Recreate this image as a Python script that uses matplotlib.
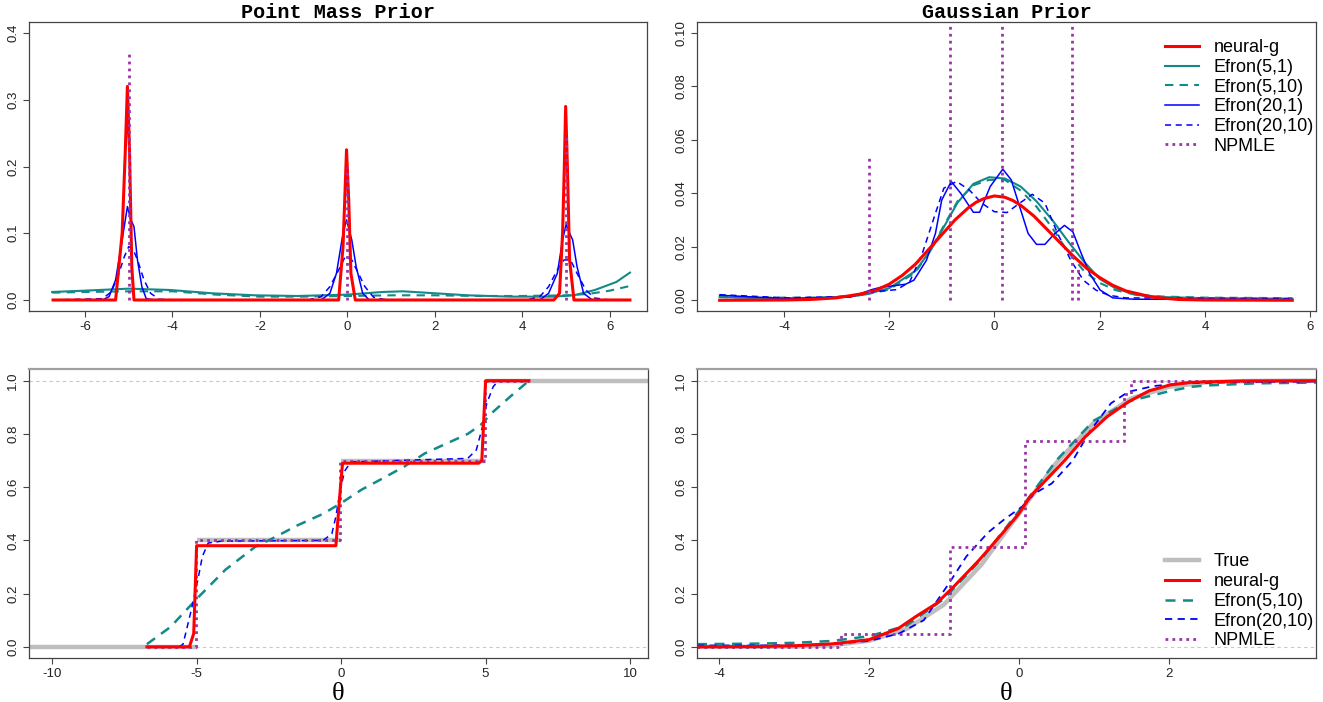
import matplotlib
matplotlib.use("Agg")
import matplotlib.pyplot as plt

plt.rcParams['font.family'] = ['Liberation Sans', 'DejaVu Sans']
plt.rcParams['axes.unicode_minus'] = False

RED = '#ff0000'
TEAL = '#138a8a'
BLUE = '#0000ff'
PURPLE = '#9a35a6'
GRAY = '#bebebe'

# ---- Point mass prior: densities ----
pm_neural_x = [-6.73, -5.3, -5.15, -5.08, -5.03, -4.98, -4.93, -4.88, -0.2, -0.1, -0.05, -0.02,
               0.03, 0.08, 0.18, 4.72, 4.85, 4.92, 4.96, 4.99, 5.03, 5.08, 5.18, 6.46]
pm_neural_y = [0, 0, 0.1, 0.22, 0.32, 0.22, 0.05, 0, 0, 0.08, 0.17, 0.225,
               0.15, 0.04, 0, 0, 0.01, 0.1, 0.2, 0.29, 0.2, 0.06, 0, 0]
pm_e51_x = [-6.75, -6.0, -5.0, -4.06, -3.08, -2.11, -1.14, 0.0, 0.8, 1.27, 1.77, 2.75,
            3.72, 4.69, 5.18, 5.66, 6.15, 6.46]
pm_e51_y = [0.012, 0.014, 0.017, 0.015, 0.010, 0.007, 0.006, 0.008, 0.012, 0.013, 0.011, 0.007,
            0.005, 0.005, 0.007, 0.015, 0.027, 0.041]
pm_e510_x = [-6.75, -6.0, -5.0, -4.0, -3.0, -2.0, -1.0, 0.0, 1.0, 2.0, 3.0, 4.0, 5.0, 5.5, 6.0, 6.46]
pm_e510_y = [0.011, 0.012, 0.013, 0.013, 0.008, 0.005, 0.005, 0.006, 0.007, 0.007, 0.006, 0.006,
             0.007, 0.009, 0.014, 0.021]
pm_e201_x = [-6.73, -5.6, -5.45, -5.3, -5.15, -5.03, -4.95, -4.88, -4.8, -4.7, -4.6, -4.4,
             -0.6, -0.4, -0.25, -0.1, -0.02, 0.1, 0.2, 0.35, 0.5,
             4.4, 4.6, 4.8, 4.92, 5.0, 5.08, 5.15, 5.25, 5.4, 5.6, 6.46]
pm_e201_y = [0, 0, 0.005, 0.03, 0.09, 0.14, 0.12, 0.11, 0.06, 0.02, 0.002, 0,
             0, 0.01, 0.04, 0.1, 0.12, 0.09, 0.05, 0.01, 0,
             0, 0.01, 0.04, 0.09, 0.113, 0.1, 0.09, 0.05, 0.01, 0, 0]
pm_e2010_x = [-6.73, -5.6, -5.4, -5.25, -5.1, -5.0, -4.9, -4.8, -4.65, -4.5, -4.3, -3.8,
              -0.9, -0.6, -0.4, -0.2, -0.05, 0.1, 0.25, 0.4, 0.6, 0.9,
              4.1, 4.4, 4.6, 4.8, 4.95, 5.1, 5.25, 5.45, 5.65, 6.0, 6.46]
pm_e2010_y = [0, 0.002, 0.012, 0.035, 0.065, 0.08, 0.076, 0.06, 0.03, 0.01, 0.001, 0,
              0, 0.005, 0.02, 0.045, 0.065, 0.06, 0.04, 0.02, 0.004, 0,
              0, 0.005, 0.02, 0.045, 0.06, 0.06, 0.04, 0.015, 0.003, 0, 0]
pm_npmle_x = [-5.0, 0.0, 5.0]
pm_npmle_h = [0.375, 0.2, 0.25]

# ---- Gaussian prior: densities ----
gp_neural_x = [-5.22, -4.0, -3.5, -3.0, -2.5, -2.25, -2.0, -1.75, -1.5, -1.25, -1.0, -0.75,
               -0.5, -0.35, -0.2, 0.0, 0.2, 0.35, 0.5, 0.75, 1.0, 1.25, 1.5, 1.75, 2.0, 2.25,
               2.5, 3.0, 3.5, 4.0, 5.66]
gp_neural_y = [0, 0.0001, 0.0003, 0.0009, 0.0025, 0.0038, 0.006, 0.0093, 0.0135, 0.019,
               0.0245, 0.030, 0.0345, 0.0366, 0.038, 0.039, 0.0385, 0.0373, 0.0355, 0.0315,
               0.0265, 0.0215, 0.0165, 0.012, 0.0085, 0.0056, 0.0035, 0.0012, 0.0003, 0.0001, 0.0]
gp_e5_x = [-5.22, -4.5, -3.5, -3.0, -2.5, -2.0, -1.5, -1.2, -1.0, -0.7, -0.4, -0.1, 0.2, 0.5,
           0.8, 1.1, 1.4, 1.7, 2.0, 2.3, 2.7, 3.2, 4.0, 5.66]
gp_e51_y = [0.0012, 0.0008, 0.0008, 0.0012, 0.002, 0.0045, 0.011, 0.019, 0.026, 0.0365, 0.0435,
            0.046, 0.0455, 0.0425, 0.037, 0.030, 0.022, 0.0145, 0.008, 0.0045, 0.002, 0.0012,
            0.0008, 0.0006]
gp_e510_y = [0.0012, 0.001, 0.001, 0.0012, 0.002, 0.004, 0.0105, 0.019, 0.0265, 0.037, 0.043,
             0.045, 0.045, 0.041, 0.035, 0.027, 0.018, 0.011, 0.0065, 0.0038, 0.002, 0.0014,
             0.001, 0.0008]
gp_e201_x = [-5.22, -3.94, -2.73, -2.33, -2.17, -1.69, -1.53, -1.29, -1.12, -1.0, -0.82, -0.64,
             -0.4, -0.28, -0.08, 0.16, 0.32, 0.48, 0.64, 0.8, 0.96, 1.12, 1.33, 1.49, 1.65,
             1.81, 2.01, 2.25, 2.65, 5.66]
gp_e201_y = [0.0019, 0.0006, 0.0012, 0.004, 0.0048, 0.006, 0.0075, 0.015, 0.025, 0.0375, 0.0444,
             0.040, 0.0329, 0.0329, 0.0425, 0.049, 0.045, 0.035, 0.025, 0.0209, 0.0209, 0.0244,
             0.028, 0.0256, 0.0175, 0.010, 0.0038, 0.0009, 0.0004, 0.0003]
gp_e2010_x = [-5.22, -3.94, -2.73, -2.33, -1.85, -1.61, -1.37, -1.12, -0.96, -0.72, -0.48, -0.24,
              0.0, 0.24, 0.48, 0.72, 0.96, 1.2, 1.45, 1.69, 1.93, 2.17, 2.49, 5.66]
gp_e2010_y = [0.0021, 0.0009, 0.0015, 0.0031, 0.004, 0.0069, 0.0175, 0.0325, 0.0419, 0.0444,
              0.0413, 0.0363, 0.0331, 0.0328, 0.0363, 0.0396, 0.0363, 0.025, 0.015, 0.0075,
              0.0038, 0.0019, 0.0009, 0.0006]
gp_npmle_x = [-2.38, -0.84, 0.14, 1.47, 1.58]
gp_npmle_h = [0.054, 0.325, 0.40, 0.175, 0.012]

# ---- Point mass prior: CDFs ----
pmc_true_lo = [-11, -5, 0, 5]
pmc_true_hi = [-5, 0, 5, 11]
pmc_true_y = [0.0, 0.4, 0.7, 1.0]
pmc_neural_x = [-6.72, -5.25, -5.1, -5.0, -4.97, -0.18, -0.03, 0.05, 4.76, 4.87, 5.0, 6.5]
pmc_neural_y = [0, 0, 0.05, 0.38, 0.38, 0.38, 0.59, 0.69, 0.69, 0.70, 1.0, 1.0]
pmc_e510_x = [-6.72, -5.9, -5.0, -4.0, -2.97, -2.38, -1.5, -0.62, 0.0, 0.7, 1.44, 2.18, 2.9,
              3.65, 4.38, 4.82, 5.26, 5.85, 6.5]
pmc_e510_y = [0.01, 0.075, 0.18, 0.29, 0.376, 0.407, 0.457, 0.50, 0.54, 0.59, 0.633, 0.677,
              0.727, 0.764, 0.80, 0.833, 0.883, 0.94, 1.0]
pmc_e2010_x = [-6.72, -5.6, -5.47, -5.18, -4.96, -4.8, -4.6, -4.15, -0.62, -0.32, -0.18, -0.03,
               0.12, 0.34, 4.38, 4.68, 4.9, 5.04, 5.26, 5.44, 6.5]
pmc_e2010_y = [0, 0, 0.01, 0.14, 0.25, 0.34, 0.39, 0.397, 0.40, 0.425, 0.49, 0.59, 0.66, 0.695,
               0.708, 0.74, 0.83, 0.915, 0.977, 1.0, 1.0]
pmc_npmle_x = [-6.72, -5.02, -0.05, 4.98, 6.5]
pmc_npmle_y = [0.0, 0.4, 0.7, 1.0, 1.0]

# ---- Gaussian prior: CDFs ----
gpc_true_x = [-4.3, -4.0, -3.5, -3.0, -2.5, -2.0, -1.5, -1.0, -0.5, 0.0, 0.5, 1.0, 1.5, 2.0,
              2.5, 3.0, 3.5, 3.97]
gpc_true_y = [0.0, 0.0, 0.0002, 0.0013, 0.006, 0.023, 0.067, 0.159, 0.309, 0.5, 0.691, 0.841,
              0.933, 0.977, 0.994, 0.9987, 0.9998, 1.0]
gpc_neural_x = [-4.3, -3.5, -3.0, -2.5, -2.0, -1.61, -1.38, -1.10, -0.87, -0.53, -0.24, 0.0,
                0.15, 0.32, 0.61, 0.89, 1.18, 1.46, 1.74, 2.02, 2.3, 3.0, 3.97]
gpc_neural_y = [0.0, 0.001, 0.004, 0.011, 0.027, 0.069, 0.113, 0.163, 0.226, 0.326, 0.42, 0.5,
                0.564, 0.614, 0.70, 0.79, 0.865, 0.92, 0.962, 0.984, 0.994, 0.999, 1.0]
gpc_e510_x = [-4.3, -3.5, -3.0, -2.5, -2.0, -1.5, -1.0, -0.5, 0.0, 0.5, 1.0, 1.5, 2.0, 2.3,
              2.5, 3.16, 3.97]
gpc_e510_y = [0.01, 0.012, 0.015, 0.022, 0.04, 0.08, 0.18, 0.33, 0.51, 0.70, 0.85, 0.925, 0.96,
              0.977, 0.982, 0.99, 0.993]
gpc_e2010_x = [-4.3, -3.5, -3.0, -2.5, -2.0, -1.6, -1.27, -0.93, -0.70, -0.41, -0.19, 0.04,
               0.21, 0.44, 0.72, 0.95, 1.23, 1.46, 1.8, 2.2, 3.0, 3.97]
gpc_e2010_y = [0.005, 0.005, 0.006, 0.01, 0.022, 0.05, 0.10, 0.24, 0.34, 0.43, 0.48, 0.526,
               0.576, 0.614, 0.70, 0.81, 0.915, 0.958, 0.98, 0.99, 0.995, 0.997]
gpc_npmle_x = [-4.3, -2.37, -0.92, 0.08, 1.40, 1.50, 3.97]
gpc_npmle_y = [0.0, 0.05, 0.375, 0.775, 0.95, 1.0, 1.0]


def style(ax, xlim, ylim, xticks, yticks, yfmt, bottom_row=False):
    ax.set_xlim(*xlim)
    ax.set_ylim(*ylim)
    ax.set_xticks(xticks)
    ax.set_xticklabels([str(t) for t in xticks])
    ax.set_yticks(yticks)
    ax.set_yticklabels([yfmt.format(t) for t in yticks], rotation=90, va='center')
    ax.tick_params(direction='out', length=4, width=0.8, color='#444444',
                   labelsize=9.5, labelcolor='#222222', pad=3)
    for side in ax.spines:
        ax.spines[side].set_color('#444444')
        ax.spines[side].set_linewidth(0.9)
    if bottom_row:
        ax.spines['top'].set_color('#a0a0a0')
        ax.spines['top'].set_linewidth(1.6)
        ax.axhline(0, color='#c8c8c8', lw=0.8, ls=(0, (3, 3)), zorder=0)
        ax.axhline(1, color='#c8c8c8', lw=0.8, ls=(0, (3, 3)), zorder=0)
        ax.set_xlabel('θ', family='Liberation Serif', fontsize=19, labelpad=2)


def add_legend(ax, order, loc, anchor):
    h, l = ax.get_legend_handles_labels()
    ax.legend([h[i] for i in order], [l[i] for i in order], loc=loc,
              bbox_to_anchor=anchor, frameon=False, fontsize=13,
              handlelength=1.85, handletextpad=0.83, labelspacing=0.15)


fig = plt.figure(figsize=(13.23, 7.02), dpi=100)
W, H = 1323.0, 702.0
ax1 = fig.add_axes([29 / W, 1 - 311 / H, 618 / W, 289 / H])
ax2 = fig.add_axes([697 / W, 1 - 311 / H, 619 / W, 289 / H])
ax3 = fig.add_axes([29 / W, 1 - 658 / H, 619 / W, 289 / H])
ax4 = fig.add_axes([697 / W, 1 - 658 / H, 619 / W, 289 / H])

title_font = dict(family='Liberation Mono', weight='bold', fontsize=14.5)

# top left
ax1.plot(pm_e51_x, pm_e51_y, color=TEAL, lw=1.5)
ax1.plot(pm_e510_x, pm_e510_y, color=TEAL, lw=1.5, ls=(0, (4, 3)))
ax1.plot(pm_e201_x, pm_e201_y, color=BLUE, lw=1.1)
ax1.plot(pm_e2010_x, pm_e2010_y, color=BLUE, lw=1.1, ls=(0, (4, 3)))
ax1.plot(pm_neural_x, pm_neural_y, color=RED, lw=2.2)
ax1.vlines(pm_npmle_x, 0, pm_npmle_h, color=PURPLE, lw=2, linestyles=(0, (1, 1.5)))
style(ax1, (-7.28, 6.85), (-0.0165, 0.4165), [-6, -4, -2, 0, 2, 4, 6],
      [0.0, 0.1, 0.2, 0.3, 0.4], '{:.1f}')
ax1.set_title('Point Mass Prior', pad=2.5, **title_font)

# top right
ax2.plot(gp_e5_x, gp_e51_y, color=TEAL, lw=1.5, label='Efron(5,1)')
ax2.plot(gp_e5_x, gp_e510_y, color=TEAL, lw=1.5, ls=(0, (4, 3)), label='Efron(5,10)')
ax2.plot(gp_e201_x, gp_e201_y, color=BLUE, lw=1.1, label='Efron(20,1)')
ax2.plot(gp_e2010_x, gp_e2010_y, color=BLUE, lw=1.1, ls=(0, (4, 3)), label='Efron(20,10)')
ax2.plot(gp_neural_x, gp_neural_y, color=RED, lw=2.2, label='neural-g')
ax2.vlines(gp_npmle_x, 0, gp_npmle_h, color=PURPLE, lw=2, linestyles=(0, (1, 1.5)),
           label='NPMLE')
style(ax2, (-5.65, 6.11), (-0.004, 0.104), [-4, -2, 0, 2, 4, 6],
      [0.0, 0.02, 0.04, 0.06, 0.08, 0.10], '{:.2f}')
ax2.set_title('Gaussian Prior', pad=2.5, **title_font)
add_legend(ax2, [4, 0, 1, 2, 3, 5], 'upper right', (1.023, 0.997))

# bottom left
ax3.hlines(pmc_true_y, pmc_true_lo, pmc_true_hi, color=GRAY, lw=3.2)
ax3.plot(pmc_e510_x, pmc_e510_y, color=TEAL, lw=1.8, ls=(0, (4, 3)))
ax3.plot(pmc_e2010_x, pmc_e2010_y, color=BLUE, lw=1.1, ls=(0, (4, 3)))
ax3.plot(pmc_npmle_x, pmc_npmle_y, color=PURPLE, lw=2, ls=(0, (1, 1.5)), drawstyle='steps-post')
ax3.plot(pmc_neural_x, pmc_neural_y, color=RED, lw=2.2)
style(ax3, (-10.8, 10.62), (-0.042, 1.044), [-10, -5, 0, 5, 10],
      [0.0, 0.2, 0.4, 0.6, 0.8, 1.0], '{:.1f}', bottom_row=True)

# bottom right
ax4.plot(gpc_true_x, gpc_true_y, color=GRAY, lw=3.2, label='True')
ax4.plot(gpc_e510_x, gpc_e510_y, color=TEAL, lw=1.8, ls=(0, (4, 3)), label='Efron(5,10)')
ax4.plot(gpc_e2010_x, gpc_e2010_y, color=BLUE, lw=1.3, ls=(0, (4, 3)), label='Efron(20,10)')
ax4.plot(gpc_npmle_x, gpc_npmle_y, color=PURPLE, lw=2, ls=(0, (1, 1.5)),
         drawstyle='steps-post', label='NPMLE')
ax4.plot(gpc_neural_x, gpc_neural_y, color=RED, lw=2.2, label='neural-g')
style(ax4, (-4.3, 3.97), (-0.042, 1.044), [-4, -2, 0, 2],
      [0.0, 0.2, 0.4, 0.6, 0.8, 1.0], '{:.1f}', bottom_row=True)
add_legend(ax4, [0, 4, 1, 2, 3], 'lower right', (1.023, -0.026))

fig.savefig('out.png', dpi=100)
